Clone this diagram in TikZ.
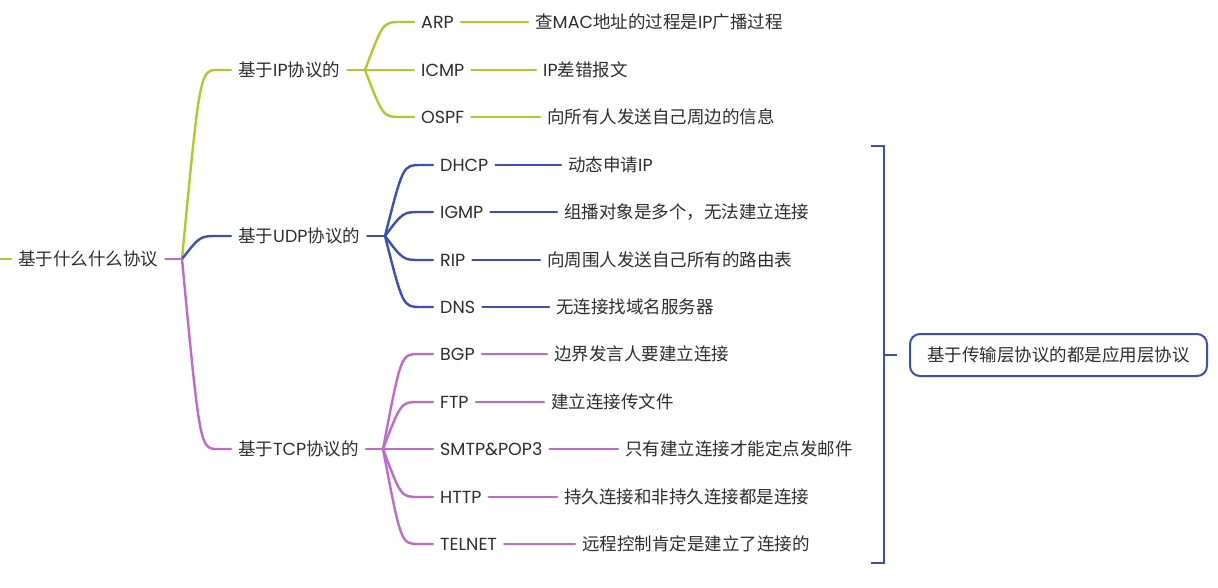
\documentclass[tikz,border=0pt]{standalone}
\usepackage{fontspec}
\setmainfont{Poppins}
\newfontfamily\cjk{Noto Sans CJK SC}
\newcommand\zh[1]{{\cjk #1}}
\usetikzlibrary{calc}
\definecolor{cOlive}{HTML}{B5C72E}
\definecolor{cBlue}{HTML}{3C4FB4}
\definecolor{cPurple}{HTML}{BF6BCD}
\definecolor{cText}{HTML}{2E2E2E}
\tikzset{
  lbl/.style={anchor=west, inner xsep=7pt, inner ysep=2pt, text=cText, font=\fontsize{17.5}{20}\selectfont},
  conn/.style={line width=2.4pt, line cap=round},
  branch/.style={to path={.. controls ($(\tikztostart |- \tikztotarget)+(18,0)$) .. ($(\tikztostart |- \tikztotarget)+(36,0)$) -- (\tikztotarget)}},
}
\begin{document}
\begin{tikzpicture}[x=1pt,y=-1pt]
\fill[white] (0,0) rectangle (1218,587);
\useasboundingbox (0,0) rectangle (1218,587);
% level 0
\node[lbl] (root) at (11,259) {\zh{基于什么什么协议}};
\coordinate (leftend) at (0,259);
\coordinate (bR) at (182,259);
% level 1
\node[lbl] (ip) at (231,70) {\zh{基于}IP\zh{协议的}};
\node[lbl] (udp) at (231,236) {\zh{基于}UDP\zh{协议的}};
\node[lbl] (tcp) at (231,449) {\zh{基于}TCP\zh{协议的}};
\coordinate (bIP) at (365,70);
\coordinate (bUDP) at (385,236);
\coordinate (bTCP) at (383,449);
% IP children
\node[lbl] (arp) at (414,22) {ARP};
\node[lbl] (icmp) at (414,70) {ICMP};
\node[lbl] (ospf) at (414,117) {OSPF};
\node[lbl] (arpd) at (528,22) {\zh{查}MAC\zh{地址的过程是}IP\zh{广播过程}};
\node[lbl] (icmpd) at (536,70) {IP\zh{差错报文}};
\node[lbl] (ospfd) at (540,117) {\zh{向所有人发送自己周边的信息}};
% UDP children
\node[lbl] (dhcp) at (433,165) {DHCP};
\node[lbl] (igmp) at (433,212) {IGMP};
\node[lbl] (rip) at (433,260) {RIP};
\node[lbl] (dns) at (433,307) {DNS};
\node[lbl] (dhcpd) at (561,165) {\zh{动态申请}IP};
\node[lbl] (igmpd) at (557,212) {\zh{组播对象是多个，无法建立连接}};
\node[lbl] (ripd) at (540,260) {\zh{向周围人发送自己所有的路由表}};
\node[lbl] (dnsd) at (549,307) {\zh{无连接找域名服务器}};
% TCP children
\node[lbl] (bgp) at (433,354) {BGP};
\node[lbl] (ftp) at (433,402) {FTP};
\node[lbl] (smtp) at (433,449) {SMTP\&POP3};
\node[lbl] (http) at (433,497) {HTTP};
\node[lbl] (telnet) at (433,544) {TELNET};
\node[lbl] (bgpd) at (547,354) {\zh{边界发言人要建立连接}};
\node[lbl] (ftpd) at (544,402) {\zh{建立连接传文件}};
\node[lbl] (smtpd) at (618,449) {\zh{只有建立连接才能定点发邮件}};
\node[lbl] (httpd) at (557,497) {\zh{持久连接和非持久连接都是连接}};
\node[lbl] (telnetd) at (575,544) {\zh{远程控制肯定是建立了连接的}};
% summary
\node[draw=cBlue, line width=2pt, rounded corners=10pt, minimum width=297pt, minimum height=42pt, inner sep=0pt, text=cText, font=\fontsize{17.5}{20}\selectfont] (summary) at (1058.5,355) {\zh{基于传输层协议的都是应用层协议}};
\coordinate (brT1) at (871,146);
\coordinate (brT2) at (884,146);
\coordinate (brB2) at (884,563);
\coordinate (brB1) at (871,563);
\coordinate (brM) at (884,355);

% connectors
\draw[conn, cOlive] (leftend) -- (root.west);
\draw[conn, cOlive] (bR) to[branch] (ip);
\draw[conn, cBlue] (bR) to[branch] (udp);
\draw[conn, cPurple] (bR) to[branch] (tcp);
\draw[conn, cPurple] (root.east) -- (bR);

\draw[conn, cOlive] (ip.east) -- (bIP);
\draw[conn, cOlive] (bIP) to[branch] (arp);
\draw[conn, cOlive] (bIP) to[branch] (icmp);
\draw[conn, cOlive] (bIP) to[branch] (ospf);
\draw[conn, cOlive] (arp.east) -- (arpd.west);
\draw[conn, cOlive] (icmp.east) -- (icmpd.west);
\draw[conn, cOlive] (ospf.east) -- (ospfd.west);

\draw[conn, cBlue] (udp.east) -- (bUDP);
\draw[conn, cBlue] (bUDP) to[branch] (dhcp);
\draw[conn, cBlue] (bUDP) to[branch] (igmp);
\draw[conn, cBlue] (bUDP) to[branch] (rip);
\draw[conn, cBlue] (bUDP) to[branch] (dns);
\draw[conn, cBlue] (dhcp.east) -- (dhcpd.west);
\draw[conn, cBlue] (igmp.east) -- (igmpd.west);
\draw[conn, cBlue] (rip.east) -- (ripd.west);
\draw[conn, cBlue] (dns.east) -- (dnsd.west);

\draw[conn, cPurple] (tcp.east) -- (bTCP);
\draw[conn, cPurple] (bTCP) to[branch] (bgp);
\draw[conn, cPurple] (bTCP) to[branch] (ftp);
\draw[conn, cPurple] (bTCP) to[branch] (smtp);
\draw[conn, cPurple] (bTCP) to[branch] (http);
\draw[conn, cPurple] (bTCP) to[branch] (telnet);
\draw[conn, cPurple] (bgp.east) -- (bgpd.west);
\draw[conn, cPurple] (ftp.east) -- (ftpd.west);
\draw[conn, cPurple] (smtp.east) -- (smtpd.west);
\draw[conn, cPurple] (http.east) -- (httpd.west);
\draw[conn, cPurple] (telnet.east) -- (telnetd.west);

\draw[line width=2.5pt, cBlue] (brT1) -- (brT2) -- (brB2) -- (brB1);
\draw[line width=2.5pt, cBlue] (brM) -- ($(summary.west)+(-12,0)$);
\end{tikzpicture}
\end{document}
